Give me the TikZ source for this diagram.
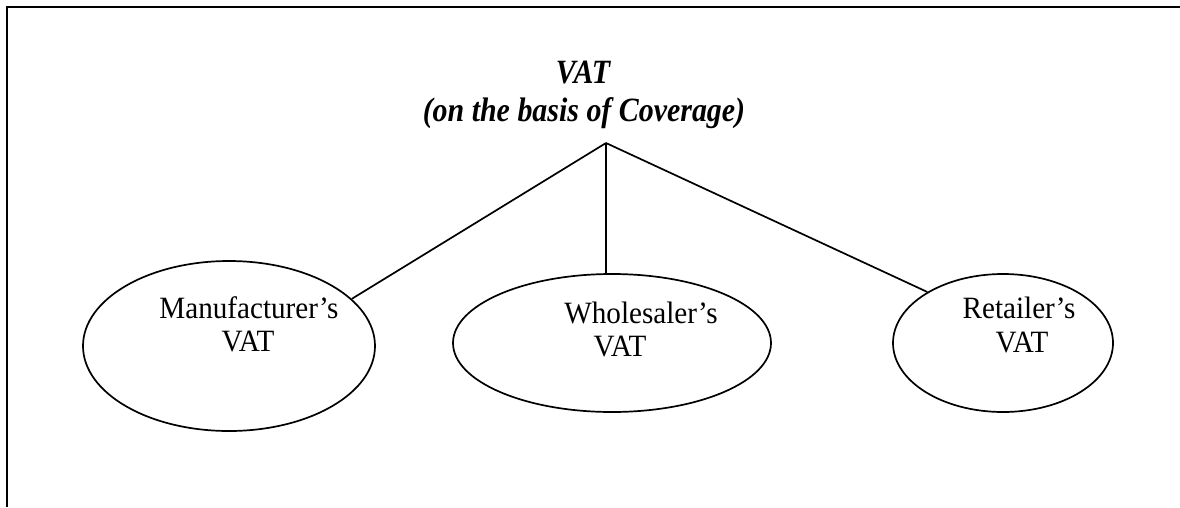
\documentclass[tikz,border=0pt]{standalone}
\usepackage{fontspec}
\setmainfont{Liberation Serif}
\newfontfamily\lblfont[FakeStretch=0.94]{Liberation Serif}
\newfontfamily\ttlfont[FakeStretch=0.88]{Liberation Serif}
\usetikzlibrary{shapes.geometric}
\tikzset{
  oval/.style={draw, line width=1.7pt, ellipse, inner sep=0pt},
  conn/.style={draw, line width=1.7pt},
  frame/.style={draw, line width=2pt},
  lbl/.style={inner sep=0pt, anchor=base, font=\lblfont\fontsize{31}{36}\selectfont},
  ttl/.style={inner sep=0pt, anchor=base, font=\ttlfont\fontsize{34}{40}\selectfont\bfseries\itshape}
}
\begin{document}
\begin{tikzpicture}[x=1pt,y=-1pt]
\useasboundingbox (0,0) rectangle (1180,507);
\coordinate (tl) at (7,7);
\coordinate (tr) at (1180,7);
\coordinate (bl) at (7,507);
\draw[frame] (tr) -- (tl) -- (bl);

\node[ttl] (t1) at (583,83) {VAT};
\node[ttl] (t2) at (584,121) {(on the basis of Coverage)};

\coordinate (apex) at (606,143);

\node[oval, minimum width=292pt, minimum height=170pt] (m) at (229,346) {};
\node[oval, minimum width=318pt, minimum height=138pt] (w) at (612,343) {};
\node[oval, minimum width=220pt, minimum height=138pt] (r) at (1003,343) {};

\node[lbl] (m1) at (249,318) {Manufacturer’s};
\node[lbl] (m2) at (248,351) {VAT};
\node[lbl] (w1) at (641,323) {Wholesaler’s};
\node[lbl] (w2) at (620,356) {VAT};
\node[lbl] (r1) at (1019,318) {Retailer’s};
\node[lbl] (r2) at (1022,352) {VAT};

\draw[conn] (apex) -- (m.21);
\draw[conn] (apex) -- (apex |- w.north);
\draw[conn] (apex) -- (r.146);
\end{tikzpicture}
\end{document}
